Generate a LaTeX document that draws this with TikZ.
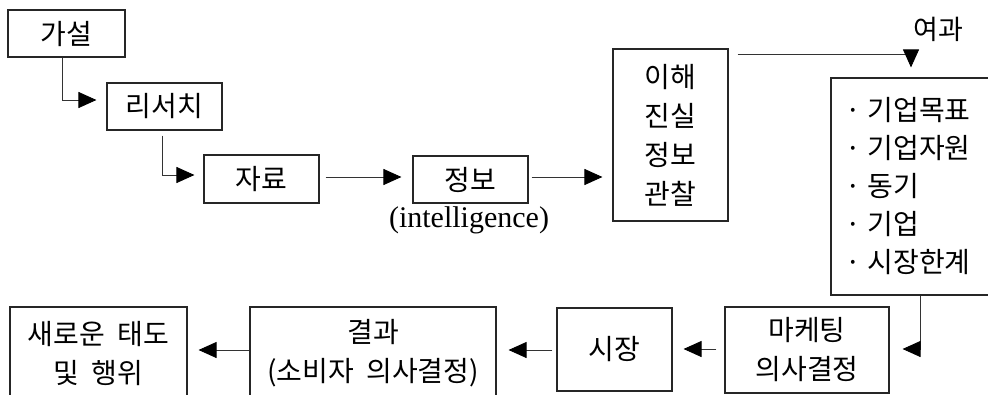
\documentclass[tikz,border=0pt]{standalone}
\usepackage{fontspec}
\setmainfont{Liberation Serif}
\newfontfamily\kr[WordSpace=2]{Noto Sans CJK KR}
\usetikzlibrary{arrows.meta,calc}

\begin{document}
\begin{tikzpicture}[x=1pt,y=-1pt,
  box/.style={draw=black!85, line width=1.1pt, inner sep=0pt, align=center,
              font=\kr\fontsize{28}{39}\selectfont},
  link/.style={draw=black!80, line width=0.9pt,
               -{Triangle[length=18pt,width=16pt,color=black]}},
]
\clip (0,0) rectangle (988,394);

% upper chain
\node[box, minimum width=117pt, minimum height=47pt] (gaseol)   at (66.5,33.5)  {가설};
\node[box, minimum width=115pt, minimum height=47pt] (research) at (164.5,106.5) {리서치};
\node[box, minimum width=115pt, minimum height=48pt] (data)     at (261.5,179)   {자료};
\node[box, minimum width=115pt, minimum height=47pt] (info)     at (470.5,179.5) {정보};
\node[font=\fontsize{30}{36}\selectfont] (intel) at (469,220) {(intelligence)};
\node[box, minimum width=115pt, minimum height=172pt] (ihae)    at (670.5,135)   {이해\\진실\\정보\\관찰};

% filter box with its list
\node[font=\kr\fontsize{27}{30}\selectfont] (filter) at (938,29) {여과};
\node[box, minimum width=178pt, minimum height=217pt, text width=150pt,
      inner xsep=14pt, align=left, font=\kr\fontsize{28}{38}\selectfont] (goals) at (920,186.5)
      {·\hspace{7pt}기업목표\\·\hspace{7pt}기업자원\\·\hspace{7pt}동기\\·\hspace{7pt}기업\\·\hspace{7pt}시장한계};

% lower chain
\node[box, minimum width=164pt, minimum height=86pt] (mkt)    at (807,350)   {마케팅\\의사결정};
\node[box, minimum width=115pt, minimum height=83pt] (market) at (614.5,349.5) {시장};
\node[box, minimum width=246pt, minimum height=93pt] (result) at (373,353.5)  {결과\\(소비자 의사결정)};
\node[box, minimum width=177pt, minimum height=93pt] (newb)   at (98.5,353.5) {새로운 태도\\및 행위};

% connectors
\draw[link] ($(gaseol.south)+(-4.5,0)$) |- ($(research.west)+(-10,-6.5)$);
\draw[link] ($(research.south)+(-2.5,5)$) |- ($(data.west)+(-9,-4)$);
\draw[link] ($(data.east)+(6,-2)$) -- ($(info.west)+(-11,-2.5)$);
\draw[link] ($(info.east)+(3,-2.5)$) -- ($(ihae.west)+(-10,42)$);
\draw[link] ($(ihae.north east)+(9,6)$) -| ($(goals.north)+(-9,-10)$);
\draw[link] (goals.south) |- ($(mkt.east)+(13,-1)$);
\draw[link] ($(mkt.west)+(-8,-1)$) -- ($(market.east)+(11,-0.5)$);
\draw[link] ($(market.west)+(-4,0.5)$) -- ($(result.east)+(12,-3.5)$);
\draw[link] ($(result.west)+(0,-3.5)$) -- ($(newb.east)+(11,-3.5)$);
\end{tikzpicture}
\end{document}
